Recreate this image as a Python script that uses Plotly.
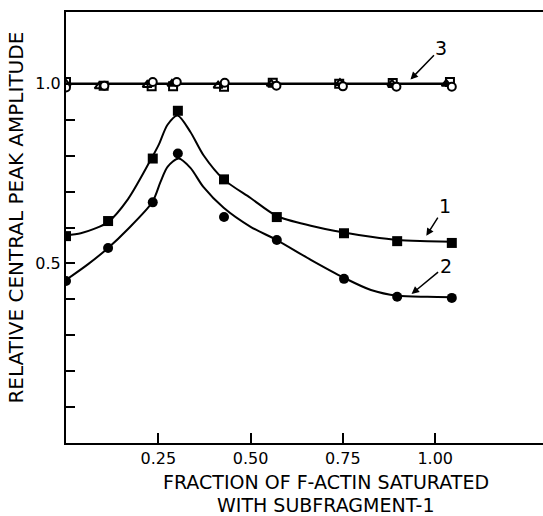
import plotly.graph_objects as go

# Series 1 (filled squares) and 2 (filled circles): measured points
x1 = [0.0, 0.114, 0.235, 0.303, 0.428, 0.571, 0.753, 0.897, 1.045]
y1 = [0.576, 0.618, 0.792, 0.925, 0.734, 0.629, 0.584, 0.562, 0.557]
x2 = [0.0, 0.114, 0.235, 0.303, 0.428, 0.571, 0.753, 0.897, 1.045]
y2 = [0.451, 0.543, 0.670, 0.806, 0.629, 0.565, 0.457, 0.407, 0.404]

# Fitted curves as drawn in the figure
c1x = [0.0, 0.04, 0.076, 0.114, 0.168, 0.234, 0.251, 0.275, 0.302, 0.337, 0.372, 0.427, 0.50, 0.571, 0.663, 0.753, 0.826, 0.898, 0.979, 1.047]
c1y = [0.578, 0.584, 0.596, 0.615, 0.679, 0.797, 0.830, 0.886, 0.912, 0.866, 0.802, 0.734, 0.682, 0.632, 0.605, 0.586, 0.574, 0.565, 0.562, 0.560]
c2x = [0.0, 0.06, 0.114, 0.168, 0.234, 0.256, 0.275, 0.305, 0.337, 0.372, 0.427, 0.50, 0.571, 0.663, 0.753, 0.826, 0.898, 0.979, 1.047]
c2y = [0.454, 0.498, 0.543, 0.596, 0.671, 0.727, 0.769, 0.792, 0.766, 0.713, 0.655, 0.602, 0.565, 0.510, 0.460, 0.426, 0.410, 0.407, 0.406]

# Series 3 (open symbols around 1.0)
x3 = [0.0, 0.095, 0.227, 0.293, 0.42, 0.563, 0.745, 0.888, 1.037]
y3_line = [1.0, 1.0, 1.0, 1.0, 1.0, 1.0, 1.0, 1.0, 1.0]
x3_sq = [0.0, 0.102, 0.232, 0.290, 0.428, 0.560, 0.740, 0.885, 1.040]
y3_sq = [1.005, 0.995, 0.993, 0.993, 0.992, 1.003, 1.000, 1.002, 1.005]
x3_tri = [0.0, 0.090, 0.220, 0.287, 0.412, 0.556, 0.742, 0.883, 1.030]
y3_tri = [1.0, 0.993, 0.997, 1.0, 0.995, 1.000, 1.002, 1.0, 1.0]
x3_ci = [0.0, 0.104, 0.235, 0.300, 0.430, 0.570, 0.750, 0.895, 1.045]
y3_ci = [0.99, 0.995, 1.005, 1.005, 1.003, 0.995, 0.993, 0.992, 0.992]

xticks = [0.25, 0.50, 0.75, 1.00]
xticktext = ["0.25", "0.50", "0.75", "1.00"]
yticks = [0.1, 0.2, 0.3, 0.4, 0.5, 0.6, 0.7, 0.8, 0.9, 1.0]
yticktext = ["", "", "", "", "0.5", "", "", "", "", "1.0"]

FONT = "DejaVu Sans"
fig = go.Figure()

fig.add_trace(go.Scatter(x=c1x, y=c1y, mode="lines", line=dict(color="black", width=2, shape="spline", smoothing=0.8), hoverinfo="skip"))
fig.add_trace(go.Scatter(x=c2x, y=c2y, mode="lines", line=dict(color="black", width=2, shape="spline", smoothing=0.8), hoverinfo="skip"))
fig.add_trace(go.Scatter(x=x3, y=y3_line, mode="lines", line=dict(color="black", width=2.5)))
fig.add_trace(go.Scatter(x=x1, y=y1, mode="markers", marker=dict(symbol="square", size=10, color="black")))
fig.add_trace(go.Scatter(x=x2, y=y2, mode="markers", marker=dict(symbol="circle", size=10, color="black")))
fig.add_trace(go.Scatter(x=x3_tri, y=y3_tri, mode="markers", marker=dict(symbol="triangle-up-open", size=8, color="black", line=dict(width=2))))
fig.add_trace(go.Scatter(x=x3_sq, y=y3_sq, mode="markers", marker=dict(symbol="square-open", size=8, color="black", line=dict(width=2))))
fig.add_trace(go.Scatter(x=x3_ci, y=y3_ci, mode="markers", marker=dict(symbol="circle", size=8, color="white", line=dict(width=2, color="black"))))

fig.update_layout(
    width=543, height=516,
    margin=dict(l=66, r=0, t=12, b=73),
    plot_bgcolor="white", paper_bgcolor="white",
    showlegend=False,
    font=dict(family=FONT, color="black"),
    xaxis=dict(range=[0, 1.292], showline=True, mirror=True, linecolor="black", linewidth=2,
               ticks="inside", ticklen=10, tickwidth=2, tickcolor="black",
               tickvals=xticks, ticktext=xticktext, tickfont=dict(size=16, family=FONT),
               showgrid=False, zeroline=False),
    yaxis=dict(range=[0, 1.2], showline=True, linecolor="black", linewidth=2,
               ticks="inside", ticklen=9, tickwidth=1.5, tickcolor="black",
               tickvals=yticks, ticktext=yticktext, tickfont=dict(size=16, family=FONT),
               showgrid=False, zeroline=False),
)

fig.add_annotation(xref="paper", yref="paper", x=0, y=0.523, xshift=-50, textangle=-90,
                   text="RELATIVE CENTRAL PEAK AMPLITUDE", showarrow=False,
                   font=dict(size=20, family=FONT), xanchor="center", yanchor="middle")
fig.add_annotation(xref="paper", yref="paper", x=0.546, y=0, yshift=-38.5,
                   text="FRACTION OF F-ACTIN SATURATED", showarrow=False,
                   font=dict(size=19, family=FONT), xanchor="center", yanchor="middle")
fig.add_annotation(xref="paper", yref="paper", x=0.546, y=0, yshift=-61.5,
                   text="WITH SUBFRAGMENT-1", showarrow=False,
                   font=dict(size=19, family=FONT), xanchor="center", yanchor="middle")

for txt, hx, hy, ax, ay in [("3", 0.933, 1.012, 31, -32), ("1", 0.976, 0.577, 19, -30), ("2", 0.936, 0.415, 34, -28)]:
    fig.add_annotation(x=hx, y=hy, ax=ax, ay=ay, text=txt, showarrow=True,
                       arrowhead=2, arrowsize=1.0, arrowwidth=1.5, arrowcolor="black",
                       font=dict(size=19, family=FONT))

fig.write_html("out.html")
